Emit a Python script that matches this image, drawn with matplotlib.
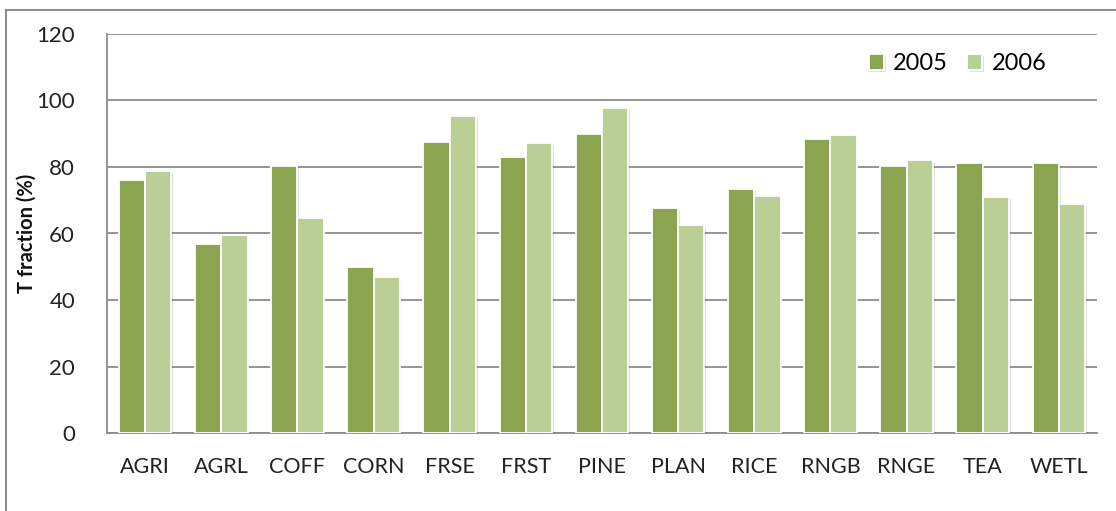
import matplotlib
matplotlib.use("Agg")
import matplotlib.pyplot as plt
import matplotlib.patheffects as pe
from matplotlib.lines import Line2D
import numpy as np

categories = ["AGRI", "AGRL", "COFF", "CORN", "FRSE", "FRST", "PINE",
              "PLAN", "RICE", "RNGB", "RNGE", "TEA", "WETL"]
values_2005 = [76.1, 56.8, 80.4, 50.0, 87.5, 83.0, 89.9, 67.7, 73.3, 88.4, 80.4, 81.1, 81.1]
values_2006 = [78.7, 59.5, 64.6, 46.9, 95.3, 87.2, 97.7, 62.6, 71.2, 89.5, 82.0, 70.9, 68.9]
series_labels = ["2005", "2006"]
yticks = [0, 20, 40, 60, 80, 100, 120]

dark = "#8AA44F"
light = "#BACF96"
grid_c = "#8C8C8C"
font = ["Lato", "DejaVu Sans"]
plt.rcParams['font.family'] = font

fig = plt.figure(figsize=(11.16, 5.11), dpi=100)
W, H = 1116, 511
ax = fig.add_axes([107 / W, (H - 433) / H, (1097 - 107) / W, (433 - 34) / H])

x = np.arange(len(categories))
bw = 0.345
shadow = [pe.SimplePatchShadow(offset=(1.2, -1.2), shadow_rgbFace="#000000", alpha=0.12), pe.Normal()]
b1 = ax.bar(x - bw / 2, values_2005, bw, color=dark, edgecolor="white", linewidth=1.3,
            label=series_labels[0], zorder=3)
b2 = ax.bar(x + bw / 2, values_2006, bw, color=light, edgecolor="white", linewidth=1.3,
            label=series_labels[1], zorder=3)
for r in list(b1) + list(b2):
    r.set_path_effects(shadow)

ax.set_xlim(-0.5, len(categories) - 0.5)
ax.set_ylim(0, 120)
ax.set_yticks(yticks)
ax.set_yticklabels([str(t) for t in yticks], fontsize=16, color="#222222")
ax.set_xticks(x)
ax.set_xticklabels(categories, fontsize=15.5, color="#222222")
ax.tick_params(axis="both", length=0)
ax.tick_params(axis="y", pad=23)
ax.tick_params(axis="x", pad=17)
ax.yaxis.grid(True, color=grid_c, linewidth=1.3, zorder=0)
ax.set_axisbelow(True)
for s in ["top", "right"]:
    ax.spines[s].set_visible(False)
ax.spines["left"].set_color(grid_c)
ax.spines["bottom"].set_color(grid_c)
ax.spines["left"].set_linewidth(1.3)
ax.spines["bottom"].set_linewidth(1.3)

ax.set_ylabel("T fraction (%)", fontsize=14.5, fontweight="bold", color="#111111")
ax.yaxis.set_label_coords(-70 / (1097 - 107), 0.5)

leg = ax.legend(loc="upper right", bbox_to_anchor=(1068 / W, (H - 32) / H),
                bbox_transform=fig.transFigure, ncol=2, frameon=False,
                fontsize=17, handlelength=0.65, handleheight=0.65, handletextpad=0.4,
                columnspacing=0.8)

# outer chart frame
fig.add_artist(Line2D([6 / W, 1.0], [1 - 10 / H, 1 - 10 / H], transform=fig.transFigure,
                      color="#8C8C8C", linewidth=1.5))
fig.add_artist(Line2D([6 / W, 6 / W], [0, 1 - 10 / H], transform=fig.transFigure,
                      color="#8C8C8C", linewidth=1.5))

fig.savefig("out.png", dpi=100)
